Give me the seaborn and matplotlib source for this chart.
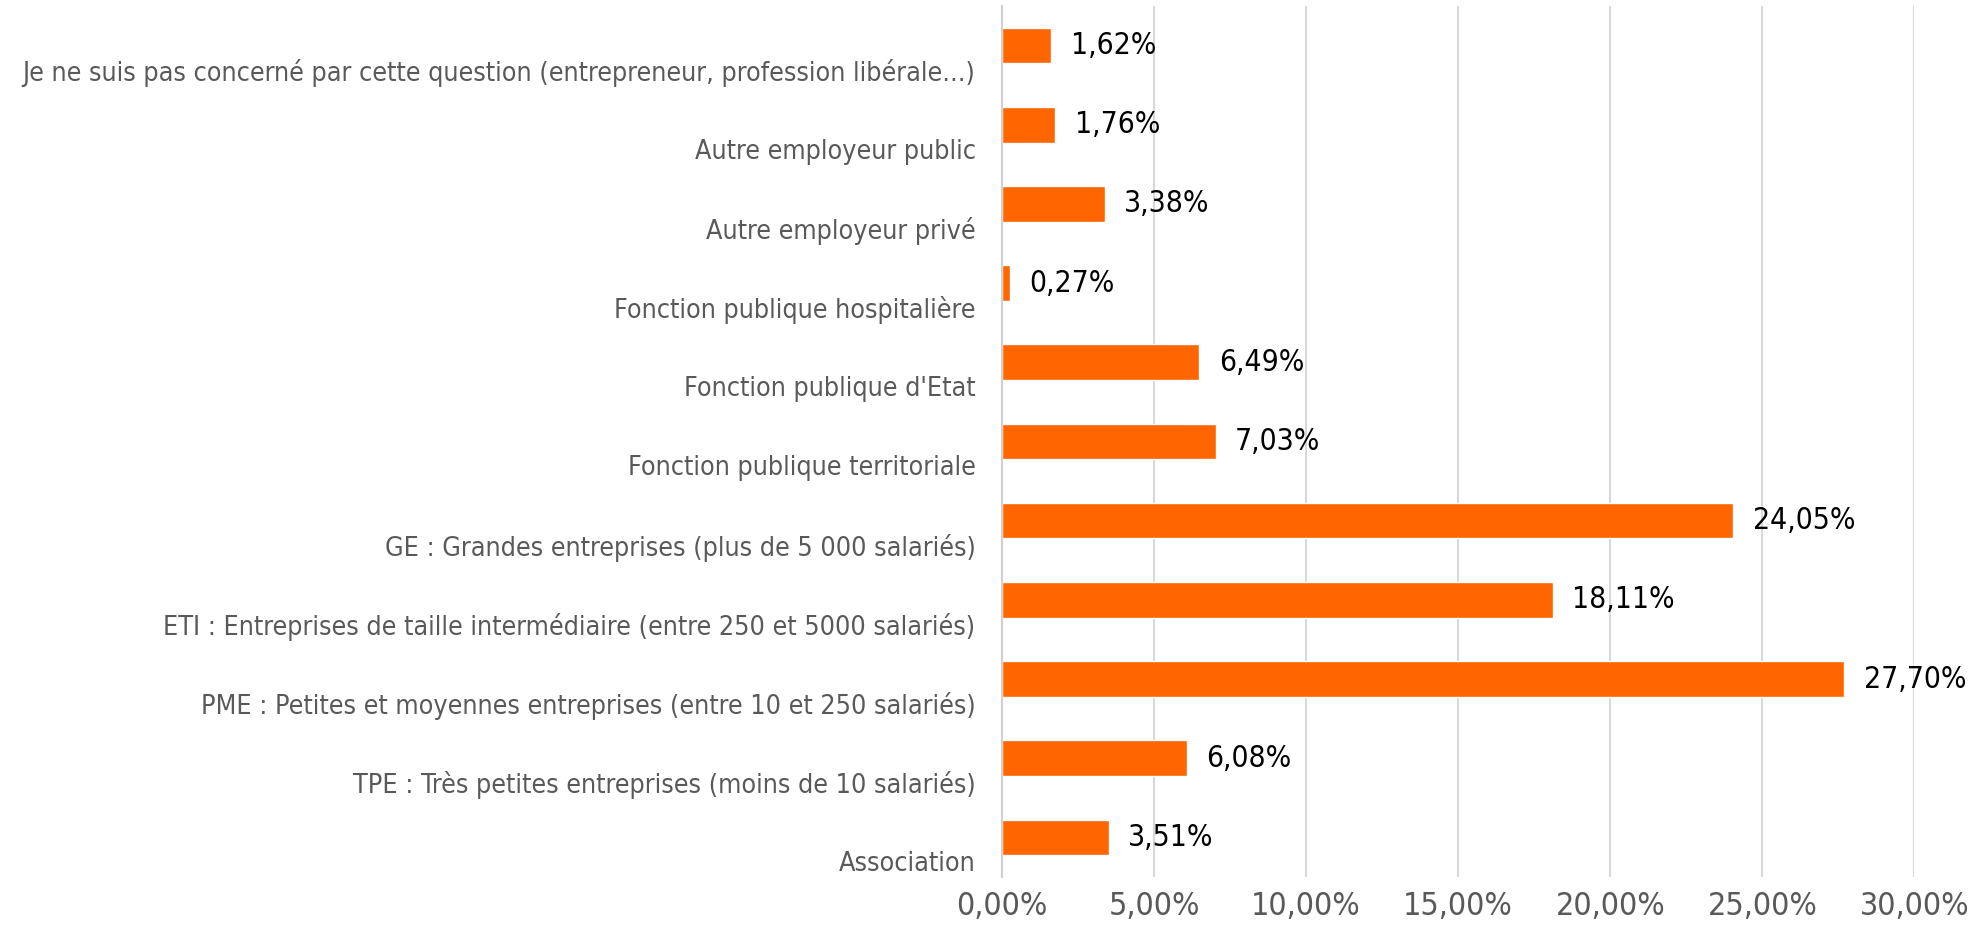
import numpy as np
import pandas as pd
import seaborn as sns
import matplotlib.pyplot as plt
import matplotlib.transforms as mtransforms
from matplotlib.ticker import FixedLocator, FuncFormatter

categories = [
    "Je ne suis pas concerné par cette question (entrepreneur, profession libérale...)",
    "Autre employeur public",
    "Autre employeur privé",
    "Fonction publique hospitalière",
    "Fonction publique d'Etat",
    "Fonction publique territoriale",
    "GE : Grandes entreprises (plus de 5 000 salariés)",
    "ETI : Entreprises de taille intermédiaire (entre 250 et 5000 salariés)",
    "PME : Petites et moyennes entreprises (entre 10 et 250 salariés)",
    "TPE : Très petites entreprises (moins de 10 salariés)",
    "Association",
]
values = [1.62, 1.76, 3.38, 0.27, 6.49, 7.03, 24.05, 18.11, 27.70, 6.08, 3.51]
x_ticks = [0, 5, 10, 15, 20, 25, 30]

df = pd.DataFrame({"cat": categories, "val": values})

sns.set_style("white")
plt.rcParams['font.family'] = ['DejaVu Sans']
plt.rcParams['font.stretch'] = 'condensed'

fig = plt.figure(figsize=(19.88, 9.32), dpi=100)
ax = fig.add_axes([0.504, 0.059, 0.459, 0.9346])

sns.barplot(data=df, x="val", y="cat", orient="h", color="#FF6600",
            width=0.45, saturation=1, ax=ax)

ax.set_xlim(0, 30)
ax.set_ylim(len(categories) - 0.5, -0.5)
ax.xaxis.set_major_locator(FixedLocator(x_ticks))
ax.xaxis.set_major_formatter(FuncFormatter(lambda v, p: f"{v:.2f}".replace('.', ',') + "%"))
ax.grid(axis="x", color="#d9d9d9", linewidth=1.5)
ax.set_axisbelow(True)
ax.set_xlabel("")
ax.set_ylabel("")

for s in ["top", "right", "bottom"]:
    ax.spines[s].set_visible(False)
ax.spines["left"].set_color("#d0d0d0")
ax.spines["left"].set_linewidth(1.5)

ax.tick_params(axis="x", length=0, labelsize=23, labelcolor="#595959", pad=10)
ax.tick_params(axis="y", which="major", length=0, labelsize=19.3, labelcolor="#595959", pad=19)
ax.yaxis.set_minor_locator(FixedLocator(np.arange(-0.5, len(categories), 1)))
ax.tick_params(axis="y", which="minor", length=5, color="#d0d0d0", width=1.5)

# category labels sit low in their band
shift = mtransforms.ScaledTranslation(0, -0.24, fig.dpi_scale_trans)
for lab in ax.get_yticklabels():
    lab.set_transform(lab.get_transform() + shift)

for i, v in enumerate(values):
    ax.annotate(f"{v:.2f}".replace('.', ',') + "%", (v, i), xytext=(14, 0),
                textcoords="offset points", va="center", ha="left",
                fontsize=21.5, color="black")

fig.savefig("out.png", dpi=100)
